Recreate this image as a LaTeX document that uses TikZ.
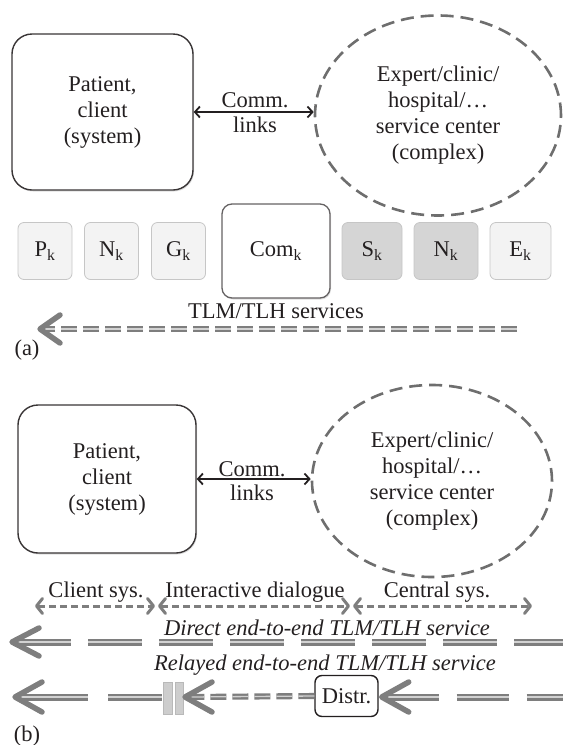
\documentclass[tikz,border=0pt]{standalone}
\usepackage{fontspec}
\setmainfont{Liberation Serif}
\newfontfamily\labelfont{Liberation Serif}
\usetikzlibrary{shapes.geometric,calc,shadows,arrows.meta}

\definecolor{ink}{HTML}{231F20}
\definecolor{dashgray}{HTML}{6E6E6E}
\definecolor{arrowgray}{HTML}{7E7E7E}
\definecolor{lightbox}{HTML}{F3F3F3}
\definecolor{darkbox}{HTML}{D5D5D5}
\definecolor{boxrim}{HTML}{C6C6C6}
\definecolor{barfill}{HTML}{CDCDCD}

\begin{document}
\begin{tikzpicture}[x=1pt,y=-1pt,
  txt/.style={font=\labelfont\fontsize{22.5}{26}\selectfont, text=ink, inner sep=0pt},
  itxt/.style={font=\labelfont\fontsize{22.5}{26}\selectfont\itshape, text=ink, inner sep=0pt},
  sysbox/.style={txt, align=center, draw=ink!90, line width=1.4pt, rounded corners=20pt,
    fill=white, drop shadow={shadow xshift=1pt, shadow yshift=-1.5pt, opacity=0.25}},
  center/.style={txt, align=center, shape=ellipse, draw=dashgray, line width=2.6pt,
    dash pattern=on 13pt off 7pt},
  commarrow/.style={draw=ink, line width=1.8pt,
    {Straight Barb[length=5pt,width=11pt]}-{Straight Barb[length=5pt,width=11pt]}},
  rowbox/.style={txt, draw=boxrim, line width=0.8pt, rounded corners=6pt, fill=lightbox,
    minimum width=54pt, minimum height=57pt},
  darkrow/.style={rowbox, fill=darkbox},
  combox/.style={txt, draw=ink!70, line width=1.3pt, rounded corners=10pt, fill=white,
    minimum width=108pt, minimum height=94pt,
    drop shadow={shadow xshift=1pt, shadow yshift=-1.5pt, opacity=0.25}},
  shortdbl/.style={draw=arrowgray, line width=2.4pt, double=gray!35, double distance=1.3pt,
    dash pattern=on 16pt off 6pt},
  longdbl/.style={draw=arrowgray, line width=2.8pt, double=gray!35, double distance=1.4pt},
  chevron/.style={draw=arrowgray, line width=5.5pt, line cap=round, line join=round},
  spanarrow/.style={draw=arrowgray, line width=3pt, dash pattern=on 7pt off 4pt,
    {Straight Barb[length=6pt,width=15pt,round]}-{Straight Barb[length=6pt,width=15pt,round]}},
  barbox/.style={draw=gray!55, line width=0.6pt, fill=barfill, minimum height=32pt, inner sep=0pt},
  relaybox/.style={txt, draw=ink, line width=1.4pt, rounded corners=7pt, fill=white,
    minimum width=63pt, minimum height=41pt}
]
\useasboundingbox (0,0) rectangle (563,745);

% ---------------- (a) ----------------
\node[sysbox, minimum width=181pt, minimum height=156pt] (pa) at (102.5,112) {Patient,\\client\\(system)};
\node[center, minimum width=246pt, minimum height=200pt] (ea) at (438,115.5)
  {Expert/clinic/\\hospital/\dots\\service center\\(complex)};
\draw[commarrow] (pa.east) -- (pa.east -| ea.west);
\node[txt, anchor=base] (commA) at (255,107) {Comm.};
\node[txt, anchor=base] (linksA) at (255,132) {links};

% protocol layers
\node[rowbox] (pk) at (45,251) {P\textsubscript{k}};
\node[rowbox] (nk) at (111.5,251) {N\textsubscript{k}};
\node[rowbox] (gk) at (178.5,251) {G\textsubscript{k}};
\node[combox] (ck) at (276,251) {Com\textsubscript{k}};
\node[darkrow, minimum width=60pt] (sk) at (372,251) {S\textsubscript{k}};
\node[darkrow, minimum width=64pt] (nk2) at (446,251) {N\textsubscript{k}};
\node[rowbox, minimum width=61pt] (ek) at (520.5,251) {E\textsubscript{k}};

% service flow
\node[txt, anchor=base] (svc) at (276,318) {TLM/TLH services};
\coordinate (aTip) at (40,329);
\coordinate (aEnd) at (517,329);
\draw[shortdbl] (aEnd) -- ($(aTip)+(6,0)$);
\draw[chevron] ($(aTip)+(20,-14)$) -- (aTip) -- ($(aTip)+(20,14)$);
\node[txt] (la) at (27,350) {(a)};

% ---------------- (b) ----------------
\node[sysbox, minimum width=178pt, minimum height=148pt] (pb) at (107,479) {Patient,\\client\\(system)};
\node[center, minimum width=240pt, minimum height=192pt] (eb) at (432,481)
  {Expert/clinic/\\hospital/\dots\\service center\\(complex)};
\draw[commarrow] (pb.east) -- (pb.east -| eb.west);
\node[txt, anchor=base] (commB) at (252,476) {Comm.};
\node[txt, anchor=base] (linksB) at (252,500) {links};

% spans of the dialogue
\node[txt, anchor=base] (cli) at (96,597) {Client sys.};
\node[txt, anchor=base] (dia) at (255,597) {Interactive dialogue};
\node[txt, anchor=base] (cen) at (437,597) {Central sys.};
\coordinate (s1) at (35,606);
\coordinate (s2) at (155,606);
\coordinate (s3) at (158,606);
\coordinate (s4) at (350,606);
\coordinate (s5) at (353,606);
\coordinate (s6) at (532,606);
\draw[spanarrow] (s1) -- (s2);
\draw[spanarrow] (s3) -- (s4);
\draw[spanarrow] (s5) -- (s6);

% direct service
\node[itxt, anchor=base] (dir) at (327,635) {Direct end-to-end TLM/TLH service};
\coordinate (dTip) at (12,642);
\coordinate (dEnd) at (563,642);
\draw[longdbl, dash pattern=on 54pt off 17pt] ($(dTip)+(5,0)$) -- (dEnd);
\draw[chevron] ($(dTip)+(27,-14)$) -- (dTip) -- ($(dTip)+(27,14)$);

% relayed service
\node[itxt, anchor=base] (rel) at (325,670) {Relayed end-to-end TLM/TLH service};
\node[relaybox] (dist) at (346.5,696) {Distr.};
\coordinate (rTip) at (15,697);
\coordinate (rMid) at (162,697);
\draw[longdbl, dash pattern=on 68pt off 20pt] ($(rTip)+(5,0)$) -- (rMid);
\draw[chevron] ($(rTip)+(27,-15)$) -- (rTip) -- ($(rTip)+(27,15)$);
\node[barbox, minimum width=9pt] (bar1) at (167.5,698) {};
\node[barbox, minimum width=8pt] (bar2) at (179,698) {};
\coordinate (gTip) at (185,697);
\draw[shortdbl] (dist.west) -- ($(gTip)+(5,0)$);
\draw[chevron] ($(gTip)+(27,-15)$) -- (gTip) -- ($(gTip)+(27,15)$);
\coordinate (hTip) at ($(dist.east)+(3,1)$);
\coordinate (hEnd) at (563,697);
\draw[longdbl, dash pattern=on 52pt off 18pt] ($(hTip)+(5,0)$) -- (hEnd);
\draw[chevron] ($(hTip)+(27,-15)$) -- (hTip) -- ($(hTip)+(27,15)$);
\node[txt] (lb) at (27,736) {(b)};
\end{tikzpicture}
\end{document}
